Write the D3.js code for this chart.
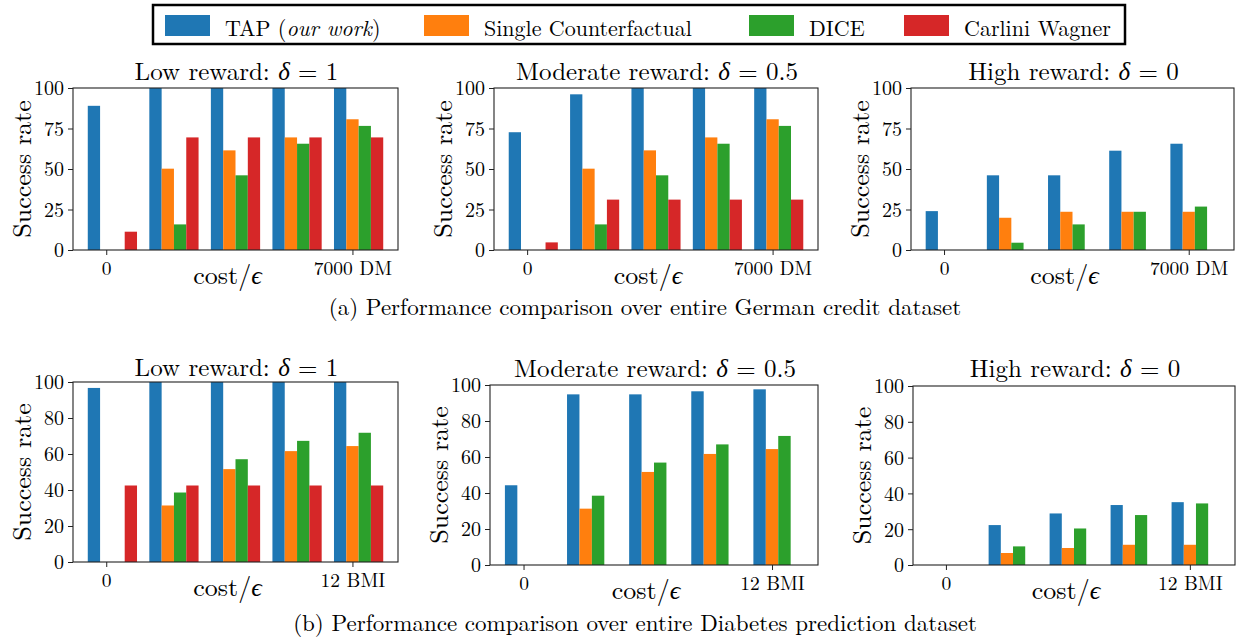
<!DOCTYPE html>
<html>
<head>
<meta charset="utf-8">
<script src="https://cdn.jsdelivr.net/npm/d3@7"></script>
<style>
  body { margin: 0; background: #fff; }
</style>
</head>
<body>
<script>
// ---- data ----
var groups = [0, 1, 2, 3, 4];
var methods = ["TAP", "Single Counterfactual", "DICE", "Carlini Wagner"];
var colors = ["#1f77b4", "#ff7f0e", "#2ca02c", "#d62728"];
var germanTicks = ["0", "7000 DM"];
var diabetesTicks = ["0", "12 BMI"];
var yTicksGerman = [0, 25, 50, 75, 100];
var yTicksDiabetes = [0, 20, 40, 60, 80, 100];

// German credit
var germanLowTap = [89, 100, 100, 100, 100];
var germanLowSingle = [0, 50.2, 61.5, 69.5, 80.7];
var germanLowDice = [0, 15.8, 46.1, 65.6, 76.6];
var germanLowCw = [11.3, 69.5, 69.5, 69.5, 69.5];

var germanModTap = [72.7, 96.1, 100, 100, 100];
var germanModSingle = [0, 50.2, 61.5, 69.5, 80.7];
var germanModDice = [0, 15.8, 46.1, 65.6, 76.6];
var germanModCw = [4.7, 31.1, 31.1, 31.1, 31.1];

var germanHighTap = [24, 46.1, 46.1, 61.3, 65.6];
var germanHighSingle = [0, 19.9, 23.6, 23.6, 23.6];
var germanHighDice = [0, 4.5, 15.8, 23.6, 26.8];
var germanHighCw = [0, 0, 0, 0, 0];

// Diabetes prediction
var diabLowTap = [96.7, 100, 100, 100, 100];
var diabLowSingle = [0, 31.4, 51.6, 61.6, 64.4];
var diabLowDice = [0, 38.6, 57.1, 67.3, 71.8];
var diabLowCw = [42.5, 42.5, 42.5, 42.5, 42.5];

var diabModTap = [44.3, 94.8, 94.8, 96.5, 97.6];
var diabModSingle = [0, 31.3, 51.7, 61.7, 64.4];
var diabModDice = [0, 38.5, 56.9, 67.0, 71.7];
var diabModCw = [0, 0, 0, 0, 0];

var diabHighTap = [0, 22.3, 28.8, 33.5, 35.1];
var diabHighSingle = [0, 6.7, 9.5, 11.3, 11.3];
var diabHighDice = [0, 10.4, 20.4, 27.9, 34.4];
var diabHighCw = [0, 0, 0, 0, 0];

var barWidth = 0.2;
var FONT = "'Latin Modern Roman', 'Liberation Serif', serif";

var svg = d3.select("body").append("svg")
  .attr("width", 1237).attr("height", 638)
  .style("font-family", FONT);

var panels = [
  {title: ["Low reward: ", "δ", " = 1"], series: [germanLowTap, germanLowSingle, germanLowDice, germanLowCw],
   yticks: yTicksGerman, xlabels: germanTicks, box: {l: 73, r: 398, t: 88, b: 250}, titleY: 80},
  {title: ["Moderate reward: ", "δ", " = 0.5"], series: [germanModTap, germanModSingle, germanModDice, germanModCw],
   yticks: yTicksGerman, xlabels: germanTicks, box: {l: 494, r: 818, t: 88, b: 250}, titleY: 80},
  {title: ["High reward: ", "δ", " = 0"], series: [germanHighTap, germanHighSingle, germanHighDice, germanHighCw],
   yticks: yTicksGerman, xlabels: germanTicks, box: {l: 911, r: 1234, t: 88, b: 250}, titleY: 80},
  {title: ["Low reward: ", "δ", " = 1"], series: [diabLowTap, diabLowSingle, diabLowDice, diabLowCw],
   yticks: yTicksDiabetes, xlabels: diabetesTicks, box: {l: 73, r: 398, t: 382, b: 562}, titleY: 376},
  {title: ["Moderate reward: ", "δ", " = 0.5"], series: [diabModTap, diabModSingle, diabModDice, diabModCw],
   yticks: yTicksDiabetes, xlabels: diabetesTicks, box: {l: 490, r: 818, t: 385, b: 565}, titleY: 377},
  {title: ["High reward: ", "δ", " = 0"], series: [diabHighTap, diabHighSingle, diabHighDice, diabHighCw],
   yticks: yTicksDiabetes, xlabels: diabetesTicks, box: {l: 913, r: 1235, t: 386, b: 565}, titleY: 377}
];

panels.forEach(function(p) {
  var b = p.box;
  var x = d3.scaleLinear().domain([-0.54, 4.74]).range([b.l, b.r]);
  var y = d3.scaleLinear().domain([0, 100]).range([b.b, b.t]);

  var g = svg.append("g").attr("class", "panel");

  // bars, one series per method
  p.series.forEach(function(vals, m) {
    g.selectAll(null)
      .data(vals)
      .enter().append("rect")
      .attr("x", function(d, i) { return x(groups[i] + (m - 1) * barWidth - barWidth / 2); })
      .attr("width", function() { return x(barWidth) - x(0); })
      .attr("y", function(d) { return y(d); })
      .attr("height", function(d) { return y(0) - y(d); })
      .style("fill", colors[m]);
  });

  // frame
  g.append("rect")
    .attr("x", b.l).attr("y", b.t)
    .attr("width", b.r - b.l).attr("height", b.b - b.t)
    .style("fill", "none").style("stroke", "#222").style("stroke-width", 1.1);

  // y axis
  var yAxis = d3.axisLeft(y).tickValues(p.yticks).tickSize(5).tickPadding(4);
  var ya = g.append("g").attr("transform", "translate(" + b.l + ",0)").call(yAxis);
  ya.attr("font-family", null).attr("font-size", null);
  ya.select(".domain").remove();
  ya.selectAll("line").style("stroke", "#222");
  ya.selectAll("text").style("font-family", FONT).style("font-size", "20px").attr("dy", "0.34em");

  // x axis
  var xAxis = d3.axisBottom(x).tickValues([0, 4]).tickSize(5).tickPadding(3)
    .tickFormat(function(d, i) { return p.xlabels[i]; });
  var xa = g.append("g").attr("transform", "translate(0," + b.b + ")").call(xAxis);
  xa.attr("font-family", null).attr("font-size", null);
  xa.select(".domain").remove();
  xa.selectAll("line").style("stroke", "#222");
  xa.selectAll("text").style("font-family", FONT).style("font-size", "19.5px").attr("dy", "0.85em");

  // title
  var t = g.append("text")
    .attr("x", (b.l + b.r) / 2 + 1).attr("y", p.titleY)
    .attr("text-anchor", "middle")
    .style("font-size", "25px");
  t.append("tspan").text(p.title[0]);
  t.append("tspan").style("font-style", "italic").style("font-weight", 300).text(p.title[1]);
  t.append("tspan").text(p.title[2]);

  // y label
  g.append("text")
    .attr("transform", "translate(" + (b.l - 42) + "," + ((b.t + b.b) / 2) + ") rotate(-90)")
    .attr("text-anchor", "middle")
    .style("font-size", "26px")
    .text("Success rate");

  // x label
  var xl = g.append("text")
    .attr("x", (b.l + b.r) / 2 - 8).attr("y", b.b + 34)
    .attr("text-anchor", "middle")
    .style("font-size", "26px");
  xl.append("tspan").text("cost/");
  xl.append("tspan").style("font-style", "italic").style("font-weight", 300).text("ϵ");
});

// captions
svg.append("text")
  .attr("x", 645).attr("y", 315)
  .attr("text-anchor", "middle")
  .style("font-size", "23px")
  .text("(a) Performance comparison over entire German credit dataset");

svg.append("text")
  .attr("x", 635).attr("y", 631)
  .attr("text-anchor", "middle")
  .style("font-size", "23px")
  .text("(b) Performance comparison over entire Diabetes prediction dataset");

// legend
var legendX = [165, 424, 749, 904];
var legend = svg.append("g").attr("class", "legend");
legend.append("rect")
  .attr("x", 153).attr("y", 5).attr("width", 972).attr("height", 39)
  .style("fill", "#fff").style("stroke", "#000").style("stroke-width", 2.5);

var items = legend.selectAll(".item")
  .data(methods)
  .enter().append("g")
  .attr("class", "item")
  .attr("transform", function(d, i) { return "translate(" + legendX[i] + ",0)"; });

items.append("rect")
  .attr("x", 0).attr("y", 15).attr("width", 45).attr("height", 21)
  .style("fill", function(d, i) { return colors[i]; });

items.append("text")
  .attr("x", 60).attr("y", 36)
  .style("font-size", "22px")
  .each(function(d, i) {
    var el = d3.select(this);
    if (i === 0) {
      el.append("tspan").text("TAP (");
      el.append("tspan").style("font-style", "italic").text("our work");
      el.append("tspan").text(")");
    } else {
      el.text(d);
    }
  });
</script>
</body>
</html>
